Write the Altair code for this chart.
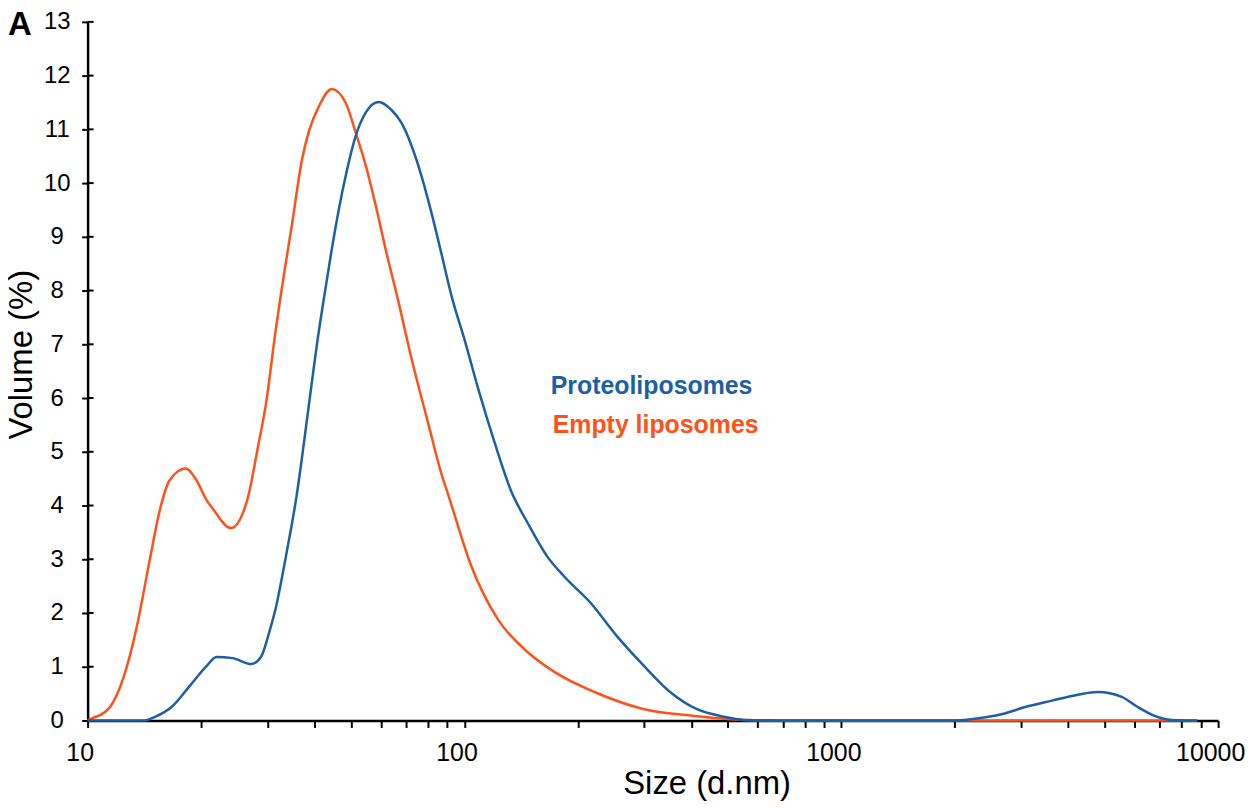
import altair as alt
import pandas as pd

# Empty liposomes (orange)
empty_size = [10.0, 10.34, 10.79, 11.47, 12.41, 13.51, 14.62, 15.54, 16.51, 18.20, 19.45, 20.68,
              21.44, 24.0, 26.52, 28.19, 29.96, 31.26, 32.81, 34.87, 37.07, 38.68, 41.10, 44.46,
              48.42, 51.46, 54.70, 58.12, 61.77, 66.83, 72.33, 80.20, 86.79, 90.57, 104.2, 122.7,
              147.3, 173.6, 221.3, 299.9, 406.4, 550.8, 760, 8800]
empty_vol = [0, 0.05, 0.10, 0.25, 0.77, 1.75, 2.99, 3.91, 4.47, 4.69, 4.47, 4.10,
             3.95, 3.58, 4.10, 5.02, 6.04, 7.05, 8.07, 9.24, 10.44, 10.97, 11.43, 11.75,
             11.49, 10.94, 10.33, 9.59, 8.77, 7.79, 6.74, 5.52, 4.60, 4.20, 2.88, 1.88,
             1.27, 0.90, 0.53, 0.21, 0.085, 0.01, 0, 0]

# Proteoliposomes (blue)
proteo_size = [10, 14.18, 14.89, 16.82, 18.65, 20.68, 21.98, 24.22, 27.19, 28.89, 30.33, 31.64,
               32.81, 33.83, 34.87, 35.95, 37.07, 38.22, 39.39, 40.60, 42.36, 44.46, 46.41, 48.42,
               51.46, 54.70, 59.19, 64.04, 68.07, 72.33, 76.86, 81.66, 86.79, 92.24, 100.4,
               108.6, 120.5, 132.8, 147.3, 166.3, 184.5, 216.0, 254.5, 299.9, 351.3, 414.0,
               487.5, 550.8, 760, 2010, 2313, 2676, 3077, 3626, 4246, 4796, 5549, 6116, 6782,
               7520, 8800]
proteo_vol = [0, 0, 0.05, 0.27, 0.64, 1.01, 1.18, 1.16, 1.05, 1.19, 1.64, 2.12,
              2.67, 3.17, 3.67, 4.23, 4.90, 5.61, 6.31, 7.00, 7.85, 8.77, 9.51, 10.14,
              10.88, 11.31, 11.51, 11.36, 11.12, 10.70, 10.14, 9.46, 8.70, 7.92, 7.05,
              6.19, 5.15, 4.28, 3.67, 3.04, 2.67, 2.19, 1.56, 1.01, 0.53, 0.21,
              0.07, 0.01, 0, 0, 0.04, 0.12, 0.25, 0.37, 0.48, 0.53, 0.44, 0.25, 0.085,
              0.01, 0]

series_names = ["Empty liposomes", "Proteoliposomes"]
series_colors = ["#ff5219", "#1d5fa5"]

x_tick_values = [10, 20, 30, 40, 50, 60, 70, 80, 90,
                 100, 200, 300, 400, 500, 600, 700, 800, 900,
                 1000, 2000, 3000, 4000, 5000, 6000, 7000, 8000, 9000, 10000]
y_tick_values = list(range(0, 14))

legend_size = [169.4, 171.5]
legend_vol = [6.07, 5.35]

FONT = "Liberation Sans"

df = pd.concat([
    pd.DataFrame({"size": empty_size, "vol": empty_vol, "series": series_names[0]}),
    pd.DataFrame({"size": proteo_size, "vol": proteo_vol, "series": series_names[1]}),
])
df_leg = pd.DataFrame({"size": legend_size, "vol": legend_vol, "series": series_names[::-1]})
df_ticks = pd.DataFrame({"vol": y_tick_values})

xscale = alt.Scale(type="log", domain=[10, 10000], nice=False)
yscale = alt.Scale(domain=[0, 13], nice=False, zero=True)
cscale = alt.Scale(domain=series_names, range=series_colors)

xaxis = alt.Axis(
    values=x_tick_values,
    labelExpr="(datum.value==10||datum.value==100||datum.value==1000||datum.value==10000) ? format(datum.value,'d') : ''",
    grid=False, tickSize=7, tickWidth=2, tickColor="black",
    domainColor="black", domainWidth=2.5,
    labelFont=FONT, labelFontSize=25, labelColor="black", labelPadding=13,
    labelFlush=False, labelOverlap=False, labelBound=False, labelOffset=-8,
    title="Size (d.nm)", titleFont=FONT, titleFontSize=33, titleFontWeight="normal",
    titleColor="black", titleX=622, titleY=73, titleBaseline="alphabetic", titleAlign="center",
    zindex=0,
)
yaxis = alt.Axis(
    values=y_tick_values, grid=False, tickSize=6, tickWidth=2, tickColor="black",
    domainColor="black", domainWidth=2.5,
    labelFont=FONT, labelFontSize=24, labelColor="black", labelPadding=25, labelAlign="center",
    labelBaseline="middle", labelFlush=False, labelOverlap=False,
    title="Volume (%)", titleFont=FONT, titleFontSize=33, titleFontWeight="normal",
    titleColor="black", titleX=-56, titleY=334, titleAngle=-90, titleBaseline="alphabetic",
    titleAlign="center", zindex=0,
)

lines = alt.Chart(df).mark_line(strokeWidth=2.5, interpolate="monotone").encode(
    x=alt.X("size:Q", scale=xscale, axis=xaxis),
    y=alt.Y("vol:Q", scale=yscale, axis=yaxis),
    color=alt.Color("series:N", scale=cscale, legend=None),
    detail="series:N",
    order=alt.Order("size:Q"),
)

inner_ticks = alt.Chart(df_ticks).mark_rule(color="black", strokeWidth=2).encode(
    y=alt.Y("vol:Q", scale=yscale),
    x=alt.value(0), x2=alt.value(6),
)

labels = alt.Chart(df_leg).mark_text(
    font=FONT, fontSize=25, fontWeight="bold", align="left", baseline="alphabetic"
).encode(
    x=alt.X("size:Q", scale=xscale),
    y=alt.Y("vol:Q", scale=yscale),
    text="series:N",
    color=alt.Color("series:N", scale=cscale, legend=None),
)

panel_letter = alt.Chart(pd.DataFrame({"t": ["A"]})).mark_text(
    font=FONT, fontSize=33, fontWeight="bold", align="left", baseline="alphabetic", color="black"
).encode(x=alt.value(-80), y=alt.value(13), text="t:N")

chart = alt.layer(inner_ticks, lines, labels, panel_letter).properties(
    width=1136, height=702,
    autosize=alt.AutoSizeParams(type="none"),
    padding={"left": 80, "top": 12, "right": 27, "bottom": 84},
).configure_view(stroke=None)

chart.save("out.html", embed_options={"renderer": "svg", "actions": False})
